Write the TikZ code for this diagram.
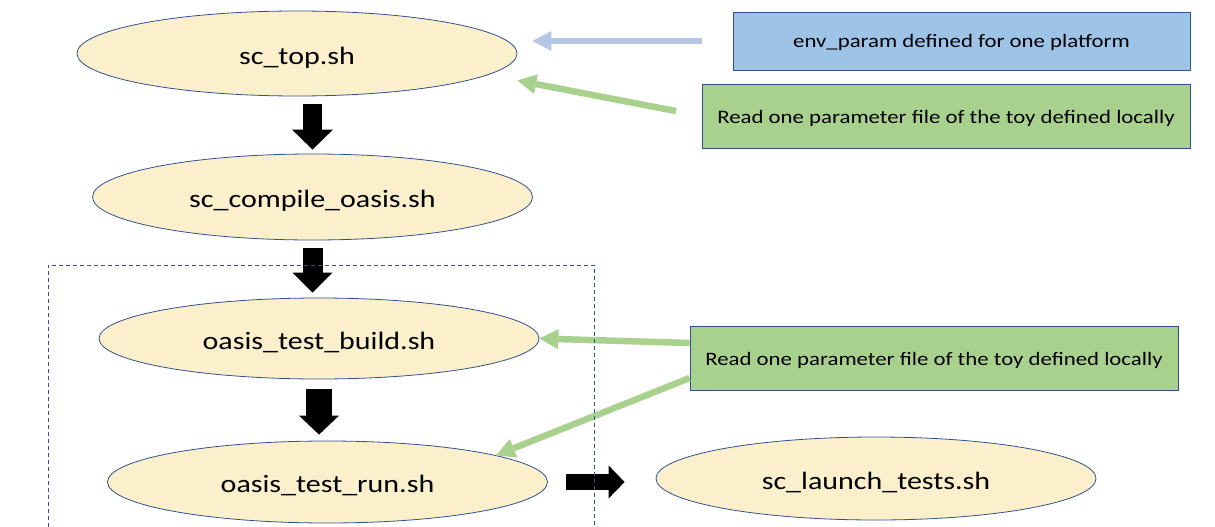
\documentclass[tikz,border=0pt]{standalone}
\usepackage{fontspec}
\setmainfont{Carlito}[FakeStretch=1.2]
\usetikzlibrary{arrows.meta,calc,shapes.geometric}
\definecolor{ellfill}{HTML}{FBF0CB}
\definecolor{edgeblue}{HTML}{2F528F}
\definecolor{boxblue}{HTML}{9DC3E6}
\definecolor{boxgreen}{HTML}{A9D18E}
\definecolor{arrblue}{HTML}{B4C7E7}
\definecolor{arrgreen}{HTML}{A9D18E}
\begin{document}
\begin{tikzpicture}[x=1pt,y=-1pt,
  script/.style={ellipse, draw=edgeblue, line width=0.8pt, fill=ellfill,
    minimum width=440pt, inner sep=0pt,
    font=\fontsize{25}{30}\selectfont, text height=24pt, text depth=3pt},
  infobox/.style={rectangle, draw=edgeblue, line width=0.8pt, inner sep=0pt,
    font=\fontsize{19}{23}\selectfont, text height=17pt, text depth=3pt},
  blockarrow/.style={draw=black, line width=#1},
  bluearrow/.style={draw=arrblue, line width=6.5pt,
    -{Triangle[length=19pt,width=20pt,line width=0pt]}},
  greenarrow/.style={draw=arrgreen, line width=6.5pt,
    -{Triangle[length=19pt,width=20pt,line width=0pt]}},
  frame/.style={draw=edgeblue, line width=0.8pt, dash pattern=on 4pt off 3pt}
]
\useasboundingbox (0,0) rectangle (1215,527);

\node[script, minimum height=85pt] (top) at (297,53.5) {sc\_top.sh};
\node[script, minimum height=86pt] (compile) at (312.5,197) {sc\_compile\_oasis.sh};
\node[script, minimum height=81pt] (build) at (319,338.5) {oasis\_test\_build.sh};
\node[script, minimum height=82pt] (run) at (327.5,482) {oasis\_test\_run.sh};
\node[script, minimum height=83pt] (launch) at (876,478.5) {sc\_launch\_tests.sh};

\node[infobox, fill=boxblue, minimum width=457pt, minimum height=58pt] (env) at (961.5,41) {env\_param defined for one platform};
\node[infobox, fill=boxgreen, minimum width=488pt, minimum height=64pt] (g1) at (946,116) {Read one parameter file of the toy defined locally};
\node[infobox, fill=boxgreen, minimum width=488pt, minimum height=64pt] (g2) at (934,358) {Read one parameter file of the toy defined locally};

% black block arrows
\draw[blockarrow=19pt, -{Triangle[length=20pt,width=41pt,line width=0pt]}, shorten <=8pt, shorten >=4pt]
  (top.south -| compile.north) -- (compile.north);
\draw[blockarrow=20pt, -{Triangle[length=20pt,width=40pt,line width=0pt]}, shorten <=8pt, shorten >=5pt]
  (compile.south) -- (compile.south |- build.north);
\draw[blockarrow=26pt, -{Triangle[length=19pt,width=40pt,line width=0pt]}, shorten <=10pt, shorten >=6pt]
  (build.south) -- (build.south |- run.north);
\draw[blockarrow=16pt, -{Triangle[length=16pt,width=33pt,line width=0pt]}, shorten <=18.5pt, shorten >=31pt]
  (run.east) -- (run.east -| launch.west);

% coloured arrows
\draw[bluearrow, shorten <=31pt, shorten >=15pt] (env.west) -- (env.west -| top.east);
\draw[greenarrow, shorten <=26pt] (g1.west) -- ($(top.east)+(0,27)$);
\draw[greenarrow] ($(g2.west)+(0,-15)$) -- (build.east);
\draw[greenarrow] ($(g2.west)+(0,20)$) -- (run.9);

% dashed frame
\draw[frame] (48,527) -- (48,265) -- (594,265) -- (594,527);
\end{tikzpicture}
\end{document}
